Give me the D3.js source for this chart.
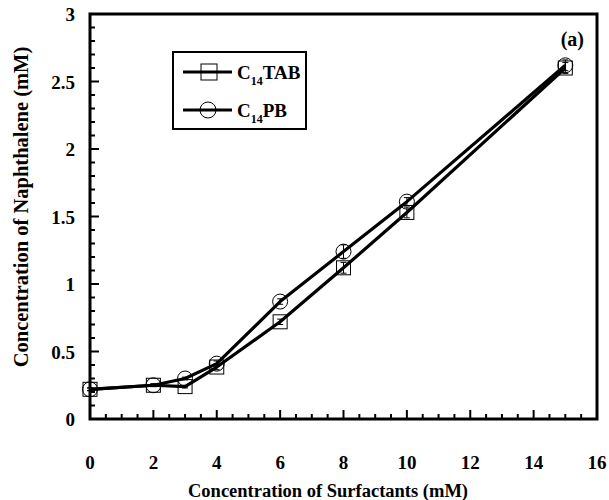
<!DOCTYPE html>
<html><head><meta charset="utf-8">
<script src="https://cdn.jsdelivr.net/npm/d3@7"></script>
<style>body{margin:0;background:#fff}svg{display:block}text{font-family:"Liberation Serif","Times New Roman",serif;font-weight:bold;fill:#000}</style>
</head><body>
<svg id="c" width="609" height="500"></svg>
<script>
const xVals = [0, 2, 3, 4, 6, 8, 10, 15];
const tabVals = [0.22, 0.25, 0.24, 0.385, 0.72, 1.12, 1.53, 2.60];
const tabErr  = [0.01, 0.01, 0.01, 0.02, 0.02, 0.04, 0.04, 0.04];
const pbVals  = [0.22, 0.25, 0.30, 0.41, 0.87, 1.24, 1.61, 2.62];
const pbErr   = [0.01, 0.01, 0.01, 0.02, 0.02, 0.05, 0.03, 0.04];
const xTicks = [0, 2, 4, 6, 8, 10, 12, 14, 16];
const yTicks = [0, 0.5, 1, 1.5, 2, 2.5, 3];
const yTickLabels = ["0", "0.5", "1", "1.5", "2", "2.5", "3"];

const svg = d3.select("#c");
const L = 90, R = 597, T = 14, B = 419;
const x = d3.scaleLinear().domain([0, 16]).range([L, R]);
const y = d3.scaleLinear().domain([0, 3]).range([B, T]);

// minor ticks
const g = svg.append("g");
const xMinor = d3.range(0, 16.01, 0.5);
g.selectAll(".xm").data(xMinor).enter().append("line")
  .attr("x1", d => x(d)).attr("x2", d => x(d))
  .attr("y1", B).attr("y2", d => B - (d % 2 === 0 ? 9 : 5))
  .attr("stroke", "#000").attr("stroke-width", 2);
const yMinor = d3.range(0, 30.01, 1).map(d => d / 10);
g.selectAll(".ym").data(yMinor).enter().append("line")
  .attr("y1", d => y(d)).attr("y2", d => y(d))
  .attr("x1", L).attr("x2", d => L + (Math.round(d * 10) % 5 === 0 ? 9 : 5))
  .attr("stroke", "#000").attr("stroke-width", 2);

// frame
svg.append("rect").attr("x", L).attr("y", T).attr("width", R - L).attr("height", B - T)
  .attr("fill", "none").attr("stroke", "#000").attr("stroke-width", 3);

// tick labels
svg.selectAll(".xl").data(xTicks).enter().append("text")
  .attr("x", d => x(d)).attr("y", 469).attr("text-anchor", "middle")
  .attr("font-size", 19).text(d => d);
svg.selectAll(".yl").data(yTicks).enter().append("text")
  .attr("x", 75).attr("y", d => y(d) + 7).attr("text-anchor", "end")
  .attr("font-size", 19).text((d, i) => yTickLabels[i]);

// axis titles
svg.append("text").attr("x", 328).attr("y", 497).attr("text-anchor", "middle")
  .attr("font-size", 18.5).text("Concentration of Surfactants (mM)");
svg.append("text").attr("transform", "translate(28,207) rotate(-90)")
  .attr("text-anchor", "middle").attr("font-size", 20.5).text("Concentration of Naphthalene (mM)");

svg.append("text").attr("x", 584).attr("y", 46).attr("text-anchor", "end")
  .attr("font-size", 20).text("(a)");

const line = d3.line().x(d => x(d[0])).y(d => y(d[1]));
const series = [
  {vals: tabVals, err: tabErr, shape: "square"},
  {vals: pbVals, err: pbErr, shape: "circle"}
];
series.forEach(s => {
  const pts = xVals.map((v, i) => [v, s.vals[i], s.err[i]]);
  svg.append("path").datum(pts).attr("d", line).attr("fill", "none")
    .attr("stroke", "#000").attr("stroke-width", 3.2).attr("stroke-linejoin", "round");
  const eg = svg.append("g");
  eg.selectAll("line.e").data(pts).enter().append("line")
    .attr("x1", d => x(d[0])).attr("x2", d => x(d[0]))
    .attr("y1", d => y(d[1] - d[2])).attr("y2", d => y(d[1] + d[2]))
    .attr("stroke", "#000").attr("stroke-width", 1);
  eg.selectAll("line.c1").data(pts).enter().append("line")
    .attr("x1", d => x(d[0]) - 3).attr("x2", d => x(d[0]) + 3)
    .attr("y1", d => y(d[1] + d[2])).attr("y2", d => y(d[1] + d[2]))
    .attr("stroke", "#000").attr("stroke-width", 1);
  eg.selectAll("line.c2").data(pts).enter().append("line")
    .attr("x1", d => x(d[0]) - 3).attr("x2", d => x(d[0]) + 3)
    .attr("y1", d => y(d[1] - d[2])).attr("y2", d => y(d[1] - d[2]))
    .attr("stroke", "#000").attr("stroke-width", 1);
  if (s.shape === "square") {
    svg.selectAll(null).data(pts).enter().append("rect")
      .attr("x", d => x(d[0]) - 7).attr("y", d => y(d[1]) - 7)
      .attr("width", 14).attr("height", 14)
      .attr("fill", "none").attr("stroke", "#000").attr("stroke-width", 1);
  } else {
    svg.selectAll(null).data(pts).enter().append("circle")
      .attr("cx", d => x(d[0])).attr("cy", d => y(d[1])).attr("r", 7.5)
      .attr("fill", "none").attr("stroke", "#000").attr("stroke-width", 1);
  }
});

// legend
const lg = svg.append("g");
lg.append("rect").attr("x", 173).attr("y", 52).attr("width", 133).attr("height", 77)
  .attr("fill", "#fff").attr("stroke", "#000").attr("stroke-width", 2);
const legendItems = [{lab: "TAB", shape: "square", yy: 72}, {lab: "PB", shape: "circle", yy: 110}];
legendItems.forEach(it => {
  lg.append("line").attr("x1", 183).attr("x2", 232).attr("y1", it.yy).attr("y2", it.yy)
    .attr("stroke", "#000").attr("stroke-width", 3);
  if (it.shape === "square") {
    lg.append("rect").attr("x", 201).attr("y", it.yy - 8).attr("width", 16).attr("height", 16)
      .attr("fill", "none").attr("stroke", "#000").attr("stroke-width", 1);
  } else {
    lg.append("circle").attr("cx", 208).attr("cy", it.yy).attr("r", 8)
      .attr("fill", "none").attr("stroke", "#000").attr("stroke-width", 1);
  }
  const t = lg.append("text").attr("x", 237).attr("y", it.yy + 7).attr("font-size", 19);
  t.append("tspan").text("C");
  t.append("tspan").attr("font-size", 12).attr("dy", 6).text("14");
  t.append("tspan").attr("dy", -6).text(it.lab);
});
</script>
</body></html>
